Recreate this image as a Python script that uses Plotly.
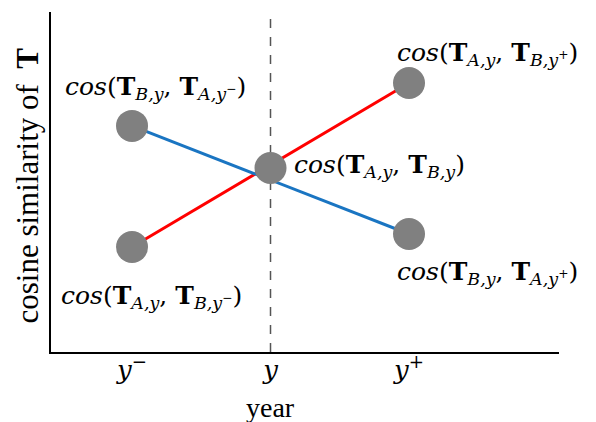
import plotly.graph_objects as go

# Data
periods = [1, 2, 3]
tick_labels = ["<i>y</i><sup>−</sup>", "<i>y</i>", "<i>y</i><sup>+</sup>"]
red_x = [1, 3]
red_y = [0.309, 0.791]
blue_x = [1, 3]
blue_y = [0.665, 0.347]
point_x = [1, 1, 2, 3, 3]
point_y = [0.665, 0.309, 0.541, 0.791, 0.347]

labels = [
    "<i>cos</i>(<b>T</b><sub><i>B,y</i></sub>, <b>T</b><sub><i>A,y</i><sup>−</sup></sub>)",
    "<i>cos</i>(<b>T</b><sub><i>A,y</i></sub>, <b>T</b><sub><i>B,y</i><sup>−</sup></sub>)",
    "<i>cos</i>(<b>T</b><sub><i>A,y</i></sub>, <b>T</b><sub><i>B,y</i></sub>)",
    "<i>cos</i>(<b>T</b><sub><i>A,y</i></sub>, <b>T</b><sub><i>B,y</i><sup>+</sup></sub>)",
    "<i>cos</i>(<b>T</b><sub><i>B,y</i></sub>, <b>T</b><sub><i>A,y</i><sup>+</sup></sub>)",
]
label_x = [1.17, 1.14, 2.79, 3.57, 3.57]
label_y = [0.776, 0.162, 0.547, 0.876, 0.232]

FONT = "Liberation Serif"
MATH = "DejaVu Serif"

fig = go.Figure()
fig.add_trace(go.Scatter(x=red_x, y=red_y, mode="lines",
                         line=dict(color="#ff0000", width=3), showlegend=False))
fig.add_trace(go.Scatter(x=blue_x, y=blue_y, mode="lines",
                         line=dict(color="#1a75c2", width=3), showlegend=False))
fig.add_trace(go.Scatter(x=point_x, y=point_y, mode="markers",
                         marker=dict(color="#808080", size=32, line=dict(width=0)),
                         showlegend=False))

fig.add_shape(type="line", xref="x", yref="paper", x0=2, x1=2, y0=0, y1=0.994,
              line=dict(color="#555555", width=1.5, dash="dash"), layer="below")

for t, x, y in zip(labels, label_x, label_y):
    fig.add_annotation(x=x, y=y, text=t, showarrow=False, xanchor="center", yanchor="middle",
                       font=dict(family=MATH, size=25, color="black"))

fig.add_annotation(x=2, y=-0.163, xref="x", yref="paper", text="year", showarrow=False,
                   xanchor="center", yanchor="middle",
                   font=dict(family=FONT, size=28, color="black"))
fig.add_annotation(x=-0.047, y=0.49, xref="paper", yref="paper",
                   text="cosine similarity of&nbsp; <b>T</b>", showarrow=False, textangle=-90,
                   xanchor="center", yanchor="middle",
                   font=dict(family=FONT, size=31, color="black"))

fig.update_layout(
    width=596, height=422,
    margin=dict(l=51, r=37, t=12, b=70),
    plot_bgcolor="white", paper_bgcolor="white",
    xaxis=dict(range=[0.415, 4.083], tickvals=periods, ticktext=tick_labels,
               showline=True, linecolor="black", linewidth=2, showgrid=False,
               zeroline=False, ticks="", ticklabelstandoff=-6, automargin=False,
               tickfont=dict(family=MATH, size=26, color="black")),
    yaxis=dict(range=[0, 1], showline=True, linecolor="black", linewidth=2,
               showgrid=False, zeroline=False, showticklabels=False, ticks="",
               automargin=False),
)

fig.write_html("out.html", config={"displayModeBar": False},
               post_script="document.body.style.margin='0';")
